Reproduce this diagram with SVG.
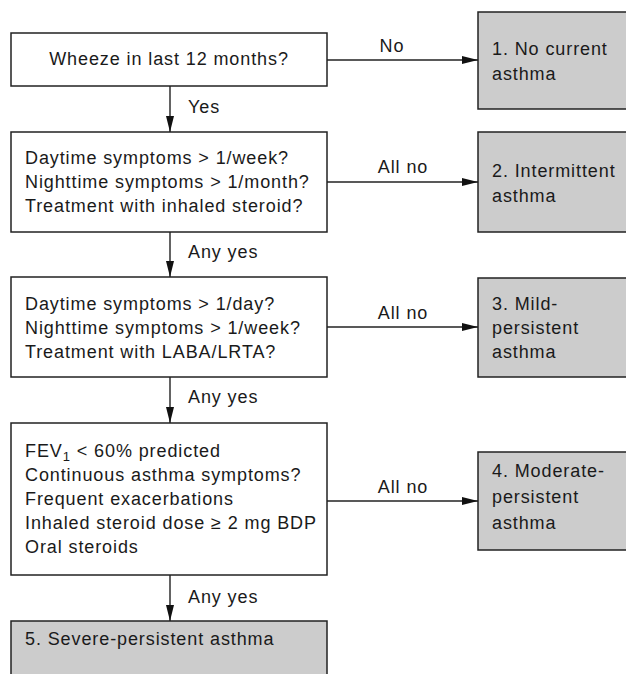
<svg xmlns="http://www.w3.org/2000/svg" width="626" height="674" viewBox="0 0 626 674">
<style>
  text { font-family: "Liberation Sans", Arial, sans-serif; font-size: 18px; fill: #1a1a1a; letter-spacing: 0.9px; }
  .q { fill: #ffffff; stroke: #222222; stroke-width: 1.5; }
  .r { fill: #cccccc; stroke: #222222; stroke-width: 1.5; }
  .c { stroke: #222222; stroke-width: 1.4; fill: none; marker-end: url(#ah); }
  .mid { text-anchor: middle; }
</style>
<defs>
  <marker id="ah" markerWidth="16" markerHeight="8" refX="16" refY="4" orient="auto" markerUnits="userSpaceOnUse">
    <path d="M0,0 L16,4 L0,8 Z" fill="#111111"/>
  </marker>
</defs>
<rect width="626" height="674" fill="#ffffff"/>

<g id="q1">
  <rect class="q" x="11" y="33" width="316" height="53"/>
  <text class="mid" x="169" y="65">Wheeze in last 12 months?</text>
</g>
<g id="r1">
  <rect class="r" x="478" y="12" width="160" height="97"/>
  <text x="492" y="55">1. No current</text>
  <text x="492" y="80">asthma</text>
</g>

<g id="q2">
  <rect class="q" x="11" y="132" width="316" height="100"/>
  <text x="25" y="164">Daytime symptoms &gt; 1/week?</text>
  <text x="25" y="188">Nighttime symptoms &gt; 1/month?</text>
  <text x="25" y="212">Treatment with inhaled steroid?</text>
</g>
<g id="r2">
  <rect class="r" x="478" y="132" width="160" height="100"/>
  <text x="492" y="177">2. Intermittent</text>
  <text x="492" y="202">asthma</text>
</g>

<g id="q3">
  <rect class="q" x="11" y="277" width="316" height="100"/>
  <text x="25" y="310">Daytime symptoms &gt; 1/day?</text>
  <text x="25" y="334">Nighttime symptoms &gt; 1/week?</text>
  <text x="25" y="358">Treatment with LABA/LRTA?</text>
</g>
<g id="r3">
  <rect class="r" x="478" y="278" width="160" height="99"/>
  <text x="492" y="310">3. Mild-</text>
  <text x="492" y="334">persistent</text>
  <text x="492" y="358">asthma</text>
</g>

<g id="q4">
  <rect class="q" x="11" y="423" width="316" height="152"/>
  <text x="25" y="457">FEV<tspan dy="4" font-size="13">1</tspan><tspan dy="-4"> &lt; 60% predicted</tspan></text>
  <text x="25" y="481">Continuous asthma symptoms?</text>
  <text x="25" y="505">Frequent exacerbations</text>
  <text x="25" y="529">Inhaled steroid dose ≥ 2 mg BDP</text>
  <text x="25" y="553">Oral steroids</text>
</g>
<g id="r4">
  <rect class="r" x="478" y="452" width="160" height="98"/>
  <text x="492" y="477">4. Moderate-</text>
  <text x="492" y="503">persistent</text>
  <text x="492" y="529">asthma</text>
</g>

<g id="r5">
  <rect class="r" x="11" y="621" width="316" height="70"/>
  <text x="25" y="645">5. Severe-persistent asthma</text>
</g>

<g id="connectors">
  <line class="c" x1="327" y1="60" x2="478" y2="60"/>
  <line class="c" x1="327" y1="182" x2="478" y2="182"/>
  <line class="c" x1="327" y1="327" x2="478" y2="327"/>
  <line class="c" x1="327" y1="501" x2="478" y2="501"/>
  <line class="c" x1="170" y1="86" x2="170" y2="132"/>
  <line class="c" x1="170" y1="232" x2="170" y2="277"/>
  <line class="c" x1="170" y1="377" x2="170" y2="423"/>
  <line class="c" x1="170" y1="575" x2="170" y2="621"/>
  <text class="mid" x="392" y="52">No</text>
  <text class="mid" x="403" y="173">All no</text>
  <text class="mid" x="403" y="319">All no</text>
  <text class="mid" x="403" y="493">All no</text>
  <text x="188" y="113">Yes</text>
  <text x="188" y="258">Any yes</text>
  <text x="188" y="403">Any yes</text>
  <text x="188" y="603">Any yes</text>
</g>
</svg>
